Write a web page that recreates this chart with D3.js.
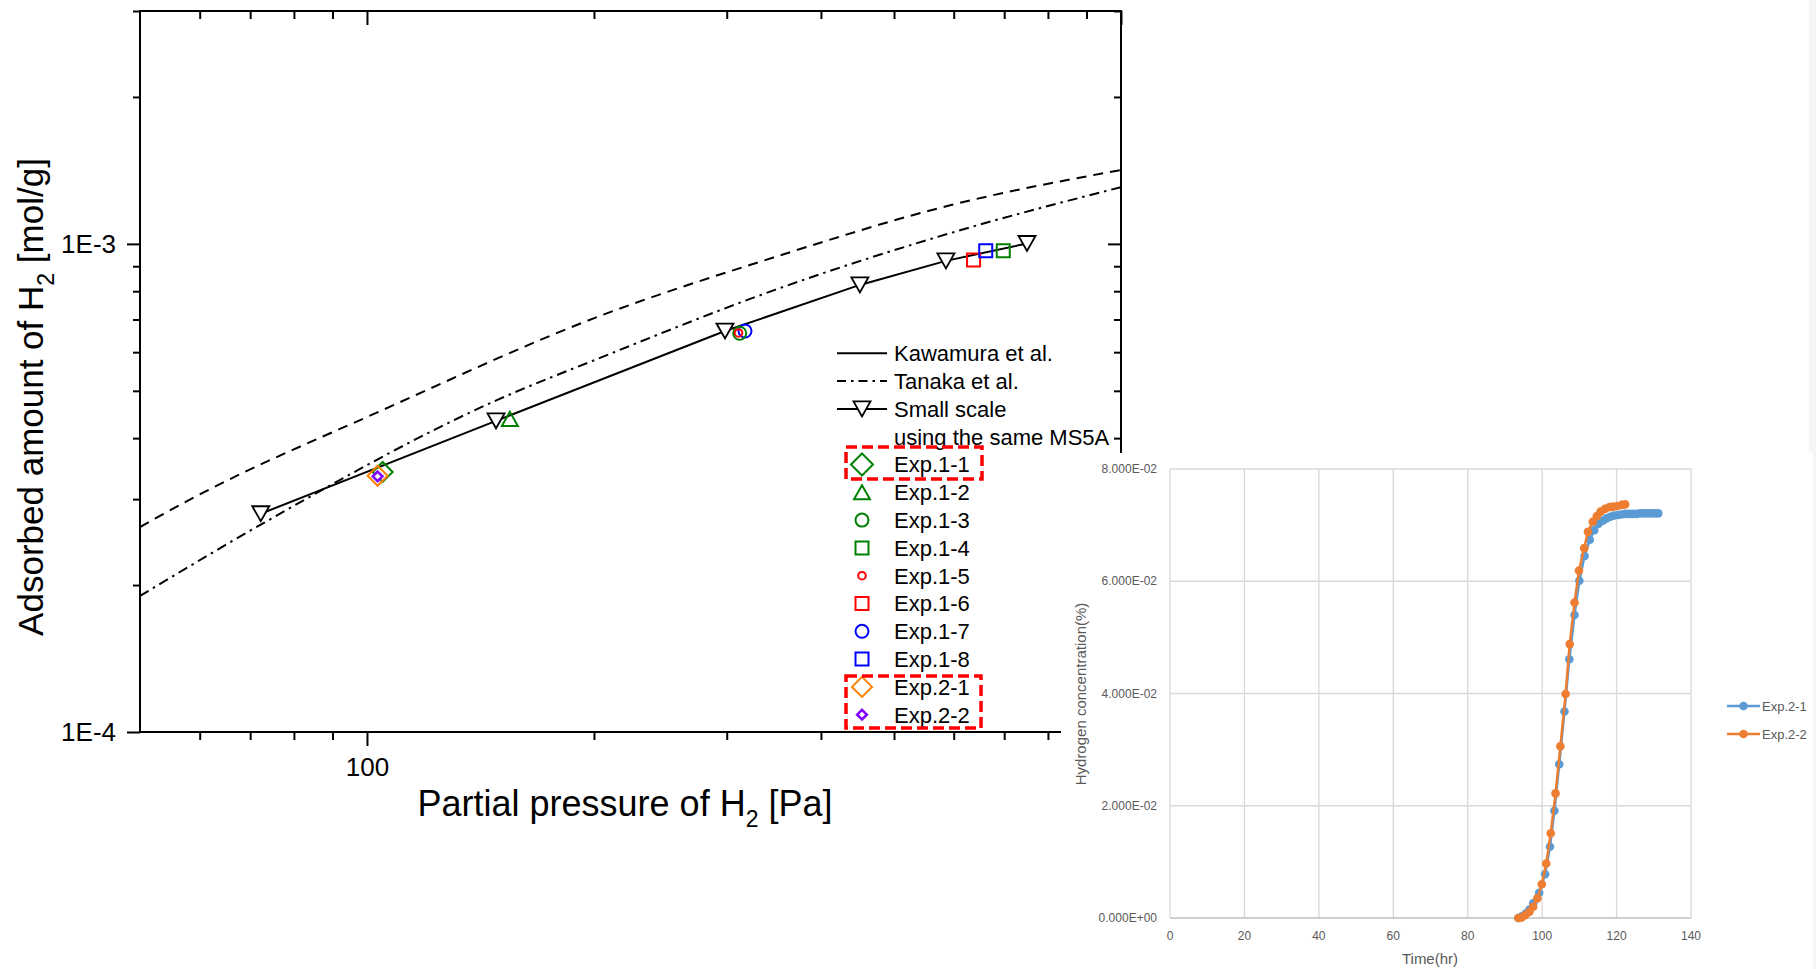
<!DOCTYPE html>
<html>
<head>
<meta charset="utf-8">
<script src="https://cdn.jsdelivr.net/npm/d3@7"></script>
<style>
  body { margin: 0; background: #fff; }
  svg { display: block; }
  .main text { font-family: "Liberation Sans", Arial, sans-serif; fill: #000; }
  .inset text { font-family: "Liberation Sans", Arial, sans-serif; fill: #595959; }
</style>
</head>
<body>
<svg width="1816" height="969"></svg>
<script>
// ---- main chart data (partial pressure [Pa], adsorbed amount [mol/g]) ----
const kawamuraP = [50, 59.1, 105, 201.9, 347.6, 595, 1000];
const kawamuraQ = [2.63e-4, 3.03e-4, 4.57e-4, 7.08e-4, 9.40e-4, 1.201e-3, 1.417e-3];

const tanakaP = [50, 72.3, 148.9, 203.7, 347.6, 595, 1000];
const tanakaQ = [1.90e-4, 2.66e-4, 4.79e-4, 5.84e-4, 8.05e-4, 1.053e-3, 1.307e-3];

const smallP = [72.3, 148.3, 298.4, 450.5, 585.9, 750.5];
const smallQ = [2.80e-4, 4.34e-4, 6.63e-4, 8.24e-4, 9.23e-4, 1.002e-3];

const expNames = ["Exp.1-1", "Exp.1-2", "Exp.1-3", "Exp.1-4", "Exp.1-5",
                  "Exp.1-6", "Exp.1-7", "Exp.1-8", "Exp.2-1", "Exp.2-2"];
const expP = [104.9, 154.7, 312.1, 698, 311, 637.5, 317.2, 661.6, 103.3, 103.3];
const expQ = [3.41e-4, 4.38e-4, 6.56e-4, 9.68e-4, 6.57e-4, 9.27e-4, 6.63e-4, 9.68e-4, 3.35e-4, 3.34e-4];

const xMajor = [100, 1000];
const xMinor = [60, 70, 80, 90, 200, 300, 400, 500, 600, 700, 800, 900];
const yMajor = [1e-4, 1e-3];
const yMinor = [2e-4, 3e-4, 4e-4, 5e-4, 6e-4, 7e-4, 8e-4, 9e-4, 2e-3, 3e-3];

// ---- inset data (time [hr], hydrogen concentration [%]) ----
const time21 = [93.6, 94.6, 95.6, 96.6, 97.6, 99.2, 100.8, 102.1, 103.3, 104.6, 106.0, 107.3,
                108.7, 110.0, 111.4, 112.8, 114.0, 115.1, 116.3, 117.3, 118.3, 119.3, 120.3,
                121.3, 122.3, 123.3, 124.3, 125.3, 126.3, 127.3, 128.3, 129.3, 130.3, 131.2];
const conc21 = [0, 0.0003, 0.0008, 0.0015, 0.0026, 0.0045, 0.0078, 0.0127, 0.0191, 0.0274, 0.0368, 0.0461,
                0.0540, 0.0601, 0.0645, 0.0674, 0.0691, 0.0702, 0.0708, 0.0712, 0.0715, 0.0717, 0.0718,
                0.0719, 0.0720, 0.0720, 0.0720, 0.0720, 0.0721, 0.0721, 0.0721, 0.0721, 0.0721, 0.0721];
const time22 = [93.6, 94.5, 95.4, 96.6, 97.6, 98.7, 99.9, 101.1, 102.3, 103.6, 104.9, 106.3, 107.4,
                108.7, 109.9, 111.3, 112.3, 113.6, 114.7, 115.7, 116.9, 118.1, 119.1, 120.3, 121.4, 122.3];
const conc22 = [0, 0.0001, 0.0005, 0.0011, 0.0020, 0.0035, 0.0060, 0.0097, 0.0151, 0.0222, 0.0306, 0.0399, 0.0488,
                0.0562, 0.0619, 0.0659, 0.0688, 0.0706, 0.0716, 0.0724, 0.0729, 0.0732, 0.0733, 0.0734, 0.0736, 0.0737];
const insetXTicks = [0, 20, 40, 60, 80, 100, 120, 140];
const insetYTicks = [0, 0.02, 0.04, 0.06, 0.08];

// ---- styles ----
const expStyle = {
  "Exp.1-1": { shape: "diamond", size: 10, color: "#008000" },
  "Exp.1-2": { shape: "triUp", size: 16, color: "#008000" },
  "Exp.1-3": { shape: "circle", size: 6.5, color: "#008000" },
  "Exp.1-4": { shape: "square", size: 13, color: "#008000" },
  "Exp.1-5": { shape: "circle", size: 3.8, color: "#ff0000" },
  "Exp.1-6": { shape: "square", size: 13, color: "#ff0000" },
  "Exp.1-7": { shape: "circle", size: 6.5, color: "#0000ff" },
  "Exp.1-8": { shape: "square", size: 13, color: "#0000ff" },
  "Exp.2-1": { shape: "diamond", size: 10, color: "#ff8000" },
  "Exp.2-2": { shape: "diamond", size: 4.8, color: "#8000ff", width: 2.6 }
};

function symbolPath(shape, s) {
  if (shape === "diamond") return `M0,${-s}L${s},0L0,${s}L${-s},0Z`;
  if (shape === "square") return `M${-s/2},${-s/2}h${s}v${s}h${-s}Z`;
  if (shape === "triUp") return `M${-s/2},${s*0.44}L${s/2},${s*0.44}L0,${-s*0.44}Z`;
  if (shape === "triDown") return `M${-s/2},${-s*0.44}L${s/2},${-s*0.44}L0,${s*0.44}Z`;
  return `M${s},0A${s},${s} 0 1,1 ${-s},0A${s},${s} 0 1,1 ${s},0Z`;
}

const svg = d3.select("svg");
svg.append("rect").attr("width", 1816).attr("height", 969).attr("fill", "#fff");
svg.append("rect").attr("x", 1809).attr("y", 0).attr("width", 7).attr("height", 969).attr("fill", "#f5f5f5");

// ================= main chart =================
const g = svg.append("g").attr("class", "main");
const x = d3.scaleLog().domain([50, 1000]).range([140, 1121]);
const y = d3.scaleLog().domain([1e-4, 3e-3]).range([732, 11]);

const noDomain = sel => sel.select(".domain").remove();
const tickStyle = sel => sel.selectAll("line").attr("stroke", "#000").attr("stroke-width", 2);

// bottom
g.append("g").attr("transform", "translate(0,732)")
  .call(d3.axisBottom(x).tickValues(xMinor).tickSize(8).tickFormat(""))
  .call(noDomain).call(tickStyle);
g.append("g").attr("transform", "translate(0,732)")
  .call(d3.axisBottom(x).tickValues(xMajor).tickSize(14).tickPadding(12)
    .tickFormat(d => d === 100 ? "100" : ""))
  .call(noDomain).call(tickStyle)
  .selectAll("text").attr("font-size", 26).attr("fill", "#000");
// top (inside)
g.append("g").attr("transform", "translate(0,11)")
  .call(d3.axisTop(x).tickValues(xMinor).tickSize(-8).tickFormat(""))
  .call(noDomain).call(tickStyle);
g.append("g").attr("transform", "translate(0,11)")
  .call(d3.axisTop(x).tickValues(xMajor).tickSize(-14).tickFormat(""))
  .call(noDomain).call(tickStyle);
// left
g.append("g").attr("transform", "translate(140,0)")
  .call(d3.axisLeft(y).tickValues(yMinor).tickSize(7).tickFormat(""))
  .call(noDomain).call(tickStyle);
g.append("g").attr("transform", "translate(140,0)")
  .call(d3.axisLeft(y).tickValues(yMajor).tickSize(13).tickPadding(11)
    .tickFormat(d => d === 1e-3 ? "1E-3" : "1E-4"))
  .call(noDomain).call(tickStyle)
  .selectAll("text").attr("font-size", 26).attr("fill", "#000");
// right (inside)
g.append("g").attr("transform", "translate(1121,0)")
  .call(d3.axisRight(y).tickValues(yMinor).tickSize(-7).tickFormat(""))
  .call(noDomain).call(tickStyle);
g.append("g").attr("transform", "translate(1121,0)")
  .call(d3.axisRight(y).tickValues(yMajor).tickSize(-13).tickFormat(""))
  .call(noDomain).call(tickStyle);

g.append("rect").attr("x", 140).attr("y", 11).attr("width", 981).attr("height", 721)
  .attr("fill", "none").attr("stroke", "#000").attr("stroke-width", 2);

// axis titles
const xt = g.append("text").attr("x", 625).attr("y", 816).attr("text-anchor", "middle").attr("font-size", 36);
xt.append("tspan").text("Partial pressure of H");
xt.append("tspan").attr("font-size", 23).attr("dy", 11).text("2");
xt.append("tspan").attr("dy", -11).text(" [Pa]");

const yt = g.append("text").attr("transform", "translate(43,397) rotate(-90)")
  .attr("text-anchor", "middle").attr("font-size", 35);
yt.append("tspan").text("Adsorbed amount of H");
yt.append("tspan").attr("font-size", 23).attr("dy", 11).text("2");
yt.append("tspan").attr("dy", -11).text(" [mol/g]");

// curves
const line = d3.line().x(d => x(d[0])).y(d => y(d[1]));
const smooth = d3.line().x(d => x(d[0])).y(d => y(d[1])).curve(d3.curveMonotoneX);

g.append("path").attr("d", smooth(d3.zip(kawamuraP, kawamuraQ)))
  .attr("fill", "none").attr("stroke", "#000").attr("stroke-width", 2).attr("stroke-dasharray", "10,7");
g.append("path").attr("d", smooth(d3.zip(tanakaP, tanakaQ)))
  .attr("fill", "none").attr("stroke", "#000").attr("stroke-width", 2).attr("stroke-dasharray", "10,5,2.5,5");
g.append("path").attr("d", line(d3.zip(smallP, smallQ)))
  .attr("fill", "none").attr("stroke", "#000").attr("stroke-width", 2);

g.selectAll(".small").data(d3.zip(smallP, smallQ)).enter().append("path")
  .attr("class", "small")
  .attr("transform", d => `translate(${x(d[0])},${y(d[1])})`)
  .attr("d", symbolPath("triDown", 17))
  .attr("fill", "#fff").attr("stroke", "#000").attr("stroke-width", 1.8);

const drawOrder = [6, 2, 4, 0, 1, 3, 5, 7, 8, 9];
g.selectAll(".exp").data(drawOrder).enter().append("path")
  .attr("class", "exp")
  .attr("transform", i => `translate(${x(expP[i])},${y(expQ[i])})`)
  .attr("d", i => symbolPath(expStyle[expNames[i]].shape, expStyle[expNames[i]].size))
  .attr("fill", i => expNames[i] === "Exp.2-2" ? "#fff" : "none")
  .attr("stroke", i => expStyle[expNames[i]].color)
  .attr("stroke-width", i => expStyle[expNames[i]].width || 2);

// legend
const lx0 = 837, lx1 = 887, lsym = 862, ltext = 894, ly0 = 353.3, lstep = 27.8;
const leg = g.append("g").attr("font-size", 22);
const legRow = i => ly0 + i * lstep;

leg.append("line").attr("x1", lx0).attr("x2", lx1).attr("y1", legRow(0)).attr("y2", legRow(0))
  .attr("stroke", "#000").attr("stroke-width", 2);
leg.append("line").attr("x1", lx0).attr("x2", lx1).attr("y1", legRow(1)).attr("y2", legRow(1))
  .attr("stroke", "#000").attr("stroke-width", 2).attr("stroke-dasharray", "9,5,2.5,5");
leg.append("line").attr("x1", lx0).attr("x2", lx1).attr("y1", legRow(2)).attr("y2", legRow(2))
  .attr("stroke", "#000").attr("stroke-width", 2);
leg.append("path").attr("transform", `translate(${lsym},${legRow(2)})`)
  .attr("d", symbolPath("triDown", 17)).attr("fill", "#fff").attr("stroke", "#000").attr("stroke-width", 1.8);

["Kawamura et al.", "Tanaka et al.", "Small scale", "using the same MS5A"].forEach((t, i) => {
  leg.append("text").attr("x", ltext).attr("y", legRow(i)).attr("dy", "0.36em").text(t);
});
expNames.forEach((name, i) => {
  const st = expStyle[name];
  const ry = legRow(i + 4);
  leg.append("path").attr("transform", `translate(${lsym},${ry})`)
    .attr("d", symbolPath(st.shape, st.shape === "diamond" && name === "Exp.1-1" ? 11 : st.size))
    .attr("fill", name === "Exp.2-2" ? "#fff" : "none")
    .attr("stroke", st.color).attr("stroke-width", st.width || 2);
  leg.append("text").attr("x", ltext).attr("y", ry).attr("dy", "0.36em").text(name);
});

// red highlight boxes
[[846, 447, 136, 32], [846, 676, 135, 52]].forEach(b => {
  g.append("rect").attr("x", b[0]).attr("y", b[1]).attr("width", b[2]).attr("height", b[3])
    .attr("fill", "none").attr("stroke", "#ff0000").attr("stroke-width", 3.5)
    .attr("stroke-dasharray", "11,5");
});

// ================= inset chart =================
const ins = svg.append("g").attr("class", "inset");
ins.append("rect").attr("x", 1061).attr("y", 453).attr("width", 752).attr("height", 516).attr("fill", "#fff");

const ix = d3.scaleLinear().domain([0, 140]).range([1170, 1691]);
const iy = d3.scaleLinear().domain([0, 0.08]).range([918, 469]);

ins.selectAll(".vg").data(insetXTicks).enter().append("line")
  .attr("x1", d => ix(d)).attr("x2", d => ix(d)).attr("y1", iy(0)).attr("y2", iy(0.08))
  .attr("stroke", "#d9d9d9").attr("stroke-width", 1.3);
ins.selectAll(".hg").data(insetYTicks.slice(1)).enter().append("line")
  .attr("x1", ix(0)).attr("x2", ix(140)).attr("y1", d => iy(d)).attr("y2", d => iy(d))
  .attr("stroke", "#d9d9d9").attr("stroke-width", 1.3);
ins.append("line").attr("x1", ix(0)).attr("x2", ix(140)).attr("y1", iy(0)).attr("y2", iy(0))
  .attr("stroke", "#bfbfbf").attr("stroke-width", 1.6);

const sci = v => {
  const [m, e] = v.toExponential(3).split("e");
  return m + "E" + e[0] + e.slice(1).padStart(2, "0");
};
ins.selectAll(".yl").data(insetYTicks).enter().append("text")
  .attr("x", 1157).attr("y", d => iy(d)).attr("dy", "0.35em").attr("text-anchor", "end")
  .attr("font-size", 12).text(sci);
ins.selectAll(".xl").data(insetXTicks).enter().append("text")
  .attr("x", d => ix(d)).attr("y", 936).attr("dy", "0.35em").attr("text-anchor", "middle")
  .attr("font-size", 12).text(d => d);

ins.append("text").attr("x", 1430).attr("y", 959).attr("dy", "0.35em").attr("text-anchor", "middle")
  .attr("font-size", 15).text("Time(hr)");
ins.append("text").attr("transform", "translate(1086,694) rotate(-90)").attr("text-anchor", "middle")
  .attr("font-size", 15).text("Hydrogen concentration(%)");

const iline = d3.line().x(d => ix(d[0])).y(d => iy(d[1]));
const series = [
  { name: "Exp.2-1", t: time21, c: conc21, color: "#5b9bd5" },
  { name: "Exp.2-2", t: time22, c: conc22, color: "#ed7d31" }
];
series.forEach((s, k) => {
  const pts = d3.zip(s.t, s.c);
  ins.append("path").attr("d", iline(pts)).attr("fill", "none")
    .attr("stroke", s.color).attr("stroke-width", 2.5);
  ins.append("g").selectAll("circle").data(pts).enter().append("circle")
    .attr("cx", d => ix(d[0])).attr("cy", d => iy(d[1])).attr("r", 4.3).attr("fill", s.color);
  const ly = 706 + k * 28;
  ins.append("line").attr("x1", 1727).attr("x2", 1760).attr("y1", ly).attr("y2", ly)
    .attr("stroke", s.color).attr("stroke-width", 2.5);
  ins.append("circle").attr("cx", 1743.5).attr("cy", ly).attr("r", 4.3).attr("fill", s.color);
  ins.append("text").attr("x", 1762).attr("y", ly).attr("dy", "0.35em")
    .attr("font-size", 13).text(s.name);
});
</script>
</body>
</html>
